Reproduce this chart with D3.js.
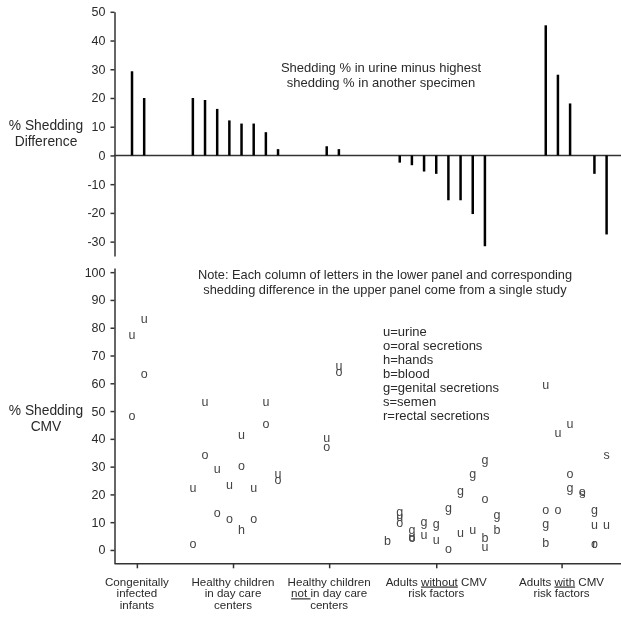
<!DOCTYPE html>
<html>
<head>
<meta charset="utf-8">
<script src="https://cdn.jsdelivr.net/npm/d3@7"></script>
<style>
  body { margin: 0; background: #fff; }
  text { font-family: "Liberation Sans", Arial, sans-serif; fill: #2a2a2a; }
</style>
</head>
<body>
<div id="wrapper"></div>
<script>
// upper panel: shedding difference per study (column slot -> value)
const barSlots  = [0, 1, 5, 6, 7, 8, 9, 10, 11, 12, 16, 17, 22, 23, 24, 25, 26, 27, 28, 29, 34, 35, 36, 38, 39];
const barValues = [29.3, 20, 20, 19.3, 16.2, 12.2, 11.1, 11.1, 8.1, 2.2, 3.2, 2.2, -2.5, -3.4, -5.6, -6.4, -15.6, -15.6, -20.4, -31.6, 45.3, 28.1, 18.1, -6.4, -27.5];

// lower panel: one letter per specimen
const letterSlots  = [0, 0, 1, 1, 5, 5, 6, 6, 7, 7, 8, 8, 9, 9, 9, 10, 10, 11, 11, 12, 12, 16, 16, 17, 17,
                      21, 22, 22, 22, 23, 23, 23, 24, 24, 25, 25, 26, 26, 27, 27, 28, 28, 29, 29, 29, 29, 30, 30,
                      34, 34, 34, 34, 35, 35, 36, 36, 36, 37, 37, 38, 38, 38, 38, 39, 39];
const letterCodes  = ["u", "o", "u", "o", "u", "o", "u", "o", "u", "o", "u", "o", "u", "o", "h", "u", "o", "u", "o", "u", "o", "u", "o", "u", "o",
                      "b", "g", "u", "o", "g", "o", "u", "g", "u", "g", "u", "g", "o", "g", "u", "g", "u", "g", "o", "b", "u", "g", "b",
                      "u", "o", "g", "b", "u", "o", "u", "o", "g", "s", "o", "g", "u", "o", "r", "s", "u"];
const letterValues = [77, 48, 83, 63, 22, 2, 53, 34, 29, 13, 23, 11, 41, 30, 7, 22, 11, 53, 45, 27, 25, 40, 37, 66, 64,
                      3, 13.5, 11.5, 9.5, 7, 4, 4.5, 10, 5, 9, 3.5, 15, 0, 21, 6, 27, 7, 32, 18, 4, 1, 12.5, 7,
                      59, 14, 9, 2.4, 42, 14, 45, 27, 22, 20, 20.5, 14, 8.6, 2, 2, 34, 8.6];

const upperTicks = [-30, -20, -10, 0, 10, 20, 30, 40, 50];
const lowerTicks = [0, 10, 20, 30, 40, 50, 60, 70, 80, 90, 100];

const categoryPos = [0.4, 8.3, 16.2, 25, 35.3];
// "_word_" marks an underlined word
const categoryLines = [
    ["Congenitally", "infected", "infants"],
    ["Healthy children", "in day care", "centers"],
    ["Healthy children", "_not _in day care", "centers"],
    ["Adults _without_ CMV", "risk factors"],
    ["Adults _with_ CMV", "risk factors"]
];

const legendLines = ["u=urine", "o=oral secretions", "h=hands", "b=blood", "g=genital secretions", "s=semen", "r=rectal secretions"];
const upperNote = ["Shedding % in urine minus highest", "shedding % in another specimen"];
const lowerNote = ["Note: Each column of letters in the lower panel and corresponding",
                   "shedding difference in the upper panel come from a single study"];

const width = 621, height = 618;

const svg = d3.select("#wrapper").append("svg")
    .attr("width", width)
    .attr("height", height)
    .style("filter", "grayscale(1)"); // no coloured fringes on the small letters

const xScaler = d3.scaleLinear().domain([-1.48, 40.8]).range([114, 628.5]);
const yUpper = d3.scaleLinear().domain([-35, 50]).range([256, 11.8]);
const yLower = d3.scaleLinear().domain([-4.8, 101.5]).range([563.3, 268]);

// ---------- axes ----------
function styleAxis(g) {
    g.selectAll("path, line").attr("stroke", "#333").attr("stroke-width", 1.5);
    g.selectAll("text").attr("font-size", 12.5).attr("fill", "#2a2a2a")
        .attr("font-family", "Liberation Sans, Arial, sans-serif");
}

const plainNum = d => String(d); // hyphen minus like the original

svg.append("g")
    .attr("transform", "translate(114.5,0)")
    .call(d3.axisLeft(yUpper).tickValues(upperTicks).tickFormat(plainNum).tickSize(4).tickSizeOuter(0).tickPadding(5))
    .call(styleAxis);

svg.append("g")
    .attr("transform", "translate(114.5,0)")
    .call(d3.axisLeft(yLower).tickValues(lowerTicks).tickFormat(plainNum).tickSize(4).tickSizeOuter(0).tickPadding(5))
    .call(styleAxis);

// zero line of upper panel
svg.append("line")
    .attr("x1", xScaler(-1.48)).attr("x2", width)
    .attr("y1", yUpper(0)).attr("y2", yUpper(0))
    .attr("stroke", "#333").attr("stroke-width", 1.5);

// category axis of lower panel
svg.append("g")
    .attr("transform", `translate(0,${yLower(-4.8)})`)
    .call(d3.axisBottom(xScaler).tickValues(categoryPos).tickFormat("").tickSize(5).tickSizeOuter(0))
    .call(styleAxis);

// ---------- upper bars ----------
svg.append("g").selectAll("line")
    .data(barValues)
    .join("line")
    .attr("x1", (d, i) => xScaler(barSlots[i]))
    .attr("x2", (d, i) => xScaler(barSlots[i]))
    .attr("y1", yUpper(0))
    .attr("y2", d => yUpper(d))
    .attr("stroke", "#000")
    .attr("stroke-width", 2.5);

// ---------- lower letters ----------
svg.append("g").selectAll("text")
    .data(letterCodes)
    .join("text")
    .attr("x", (d, i) => xScaler(letterSlots[i]))
    .attr("y", (d, i) => yLower(letterValues[i]))
    .attr("dy", "0.27em")
    .attr("text-anchor", "middle")
    .attr("font-size", 12.5)
    .style("fill", "#444")
    .text(d => d);

// ---------- text ----------
function titleBlock(lines, x, y0, step, size) {
    const t = svg.append("text")
        .attr("text-anchor", "middle")
        .attr("font-size", size);
    lines.forEach((l, i) => {
        t.append("tspan").attr("x", x).attr("y", y0 + i * step).text(l);
    });
}

titleBlock(["% Shedding", "Difference"], 46, 129.5, 16.5, 13.8);
titleBlock(["% Shedding", "CMV"], 46, 414.5, 16, 13.8);
titleBlock(upperNote, 381, 71.5, 15.8, 13);
titleBlock(lowerNote, 385, 278.5, 15, 12.8);

// legend
const legend = svg.append("text").attr("font-size", 13);
legendLines.forEach((l, i) => {
    legend.append("tspan").attr("x", 383).attr("y", 336 + i * 14).text(l);
});

// category labels
categoryLines.forEach((lines, c) => {
    const t = svg.append("text")
        .attr("text-anchor", "middle")
        .attr("font-size", 11.6);
    lines.forEach((line, j) => {
        const row = t.append("tspan")
            .attr("x", xScaler(categoryPos[c]))
            .attr("y", 585.5 + j * 11.8);
        line.split("_").forEach((part, k) => {
            if (part === "") return;
            const s = row.append("tspan").text(part);
            if (k % 2 === 1) s.style("text-decoration", "underline");
        });
    });
});
</script>
</body>
</html>
